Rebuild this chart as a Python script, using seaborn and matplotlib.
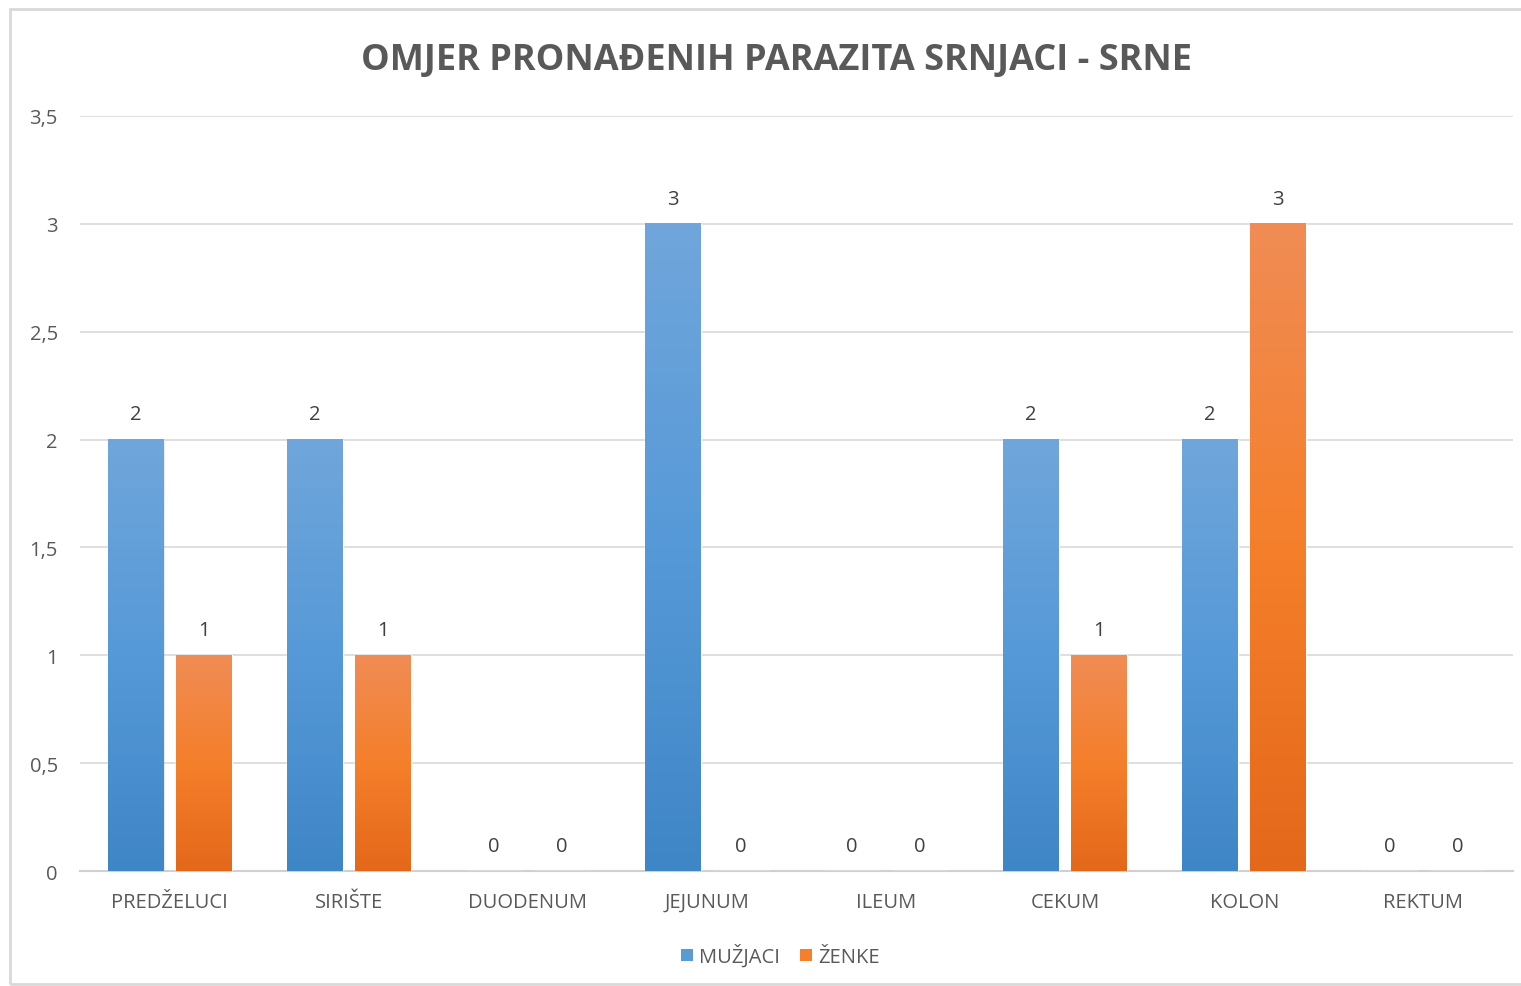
import numpy as np
import pandas as pd
import matplotlib
matplotlib.use("Agg")
import matplotlib.pyplot as plt
from matplotlib.patches import Patch, Rectangle
from matplotlib.colors import LinearSegmentedColormap
from matplotlib.ticker import FuncFormatter, MultipleLocator
import seaborn as sns

# Data
categories = ["PREDŽELUCI", "SIRIŠTE", "DUODENUM", "JEJUNUM",
              "ILEUM", "CEKUM", "KOLON", "REKTUM"]
muzjaci = [2, 2, 0, 3, 0, 2, 2, 0]
zenke = [1, 1, 0, 0, 0, 1, 3, 0]
series_names = ["MUŽJACI", "ŽENKE"]

title = "OMJER PRONAĐENIH PARAZITA SRNJACI - SRNE"

df = pd.DataFrame({
    "organ": categories * 2,
    "value": muzjaci + zenke,
    "spol": [series_names[0]] * len(categories) + [series_names[1]] * len(categories),
})

sns.set_theme(style="white")
plt.rcParams["font.family"] = ["Open Sans", "DejaVu Sans"]

text_grey = "#595959"
blue = "#5B9BD5"
orange = "#F57F2B"
# top -> bottom gradient stops
grads = {
    series_names[0]: ["#70A6DB", "#5699D8", "#3F86C6"],
    series_names[1]: ["#F08C55", "#F57F2B", "#E4681A"],
}

fig = plt.figure(figsize=(15.21, 9.87), dpi=100)
ax = fig.add_axes([0.0526, 0.1165, 0.9421, 0.765])

sns.barplot(data=df, x="organ", y="value", hue="spol", order=categories,
            hue_order=series_names, palette=[blue, orange],
            width=0.76, gap=0.18, legend=False, ax=ax, zorder=3)

# gradient fills on top of the bars
for cont, name in zip(ax.containers, series_names):
    cmap = LinearSegmentedColormap.from_list(name, grads[name])
    grad = np.linspace(0, 1, 256).reshape(-1, 1)
    for bar in cont:
        h = bar.get_height()
        if h <= 0:
            continue
        x0 = bar.get_x()
        w = bar.get_width()
        # soft shadow
        ax.add_patch(Rectangle((x0 + 0.006, -0.012), w, h, facecolor="#000000",
                               alpha=0.10, edgecolor="none", zorder=2))
        ax.imshow(grad, cmap=cmap, aspect="auto", extent=(x0, x0 + w, 0, h),
                  origin="upper", zorder=4, interpolation="bilinear")
    ax.bar_label(cont, fmt="%g", padding=11, fontsize=14.5, color="#404040")

ax.set_ylim(0, 3.5)
ax.set_xlim(-0.5, len(categories) - 0.5)

ax.yaxis.set_major_locator(MultipleLocator(0.5))
ax.yaxis.set_major_formatter(FuncFormatter(lambda v, p: f"{v:g}".replace(".", ",")))
ax.grid(axis="y", color="#D9D9D9", linewidth=1.2, zorder=0)
ax.set_axisbelow(True)

for side in ["left", "right", "top"]:
    ax.spines[side].set_visible(False)
ax.spines["bottom"].set_color("#D0D0D0")
ax.spines["bottom"].set_linewidth(1.5)

ax.tick_params(axis="y", length=0, pad=16, labelsize=14.5, labelcolor=text_grey)
ax.tick_params(axis="x", length=0, pad=15, labelsize=14.5, labelcolor=text_grey)
ax.set_xlabel("")
ax.set_ylabel("")

fig.text(0.5105, 0.938, title, ha="center", va="center", fontsize=26,
         fontweight="bold", color=text_grey)

handles = [Patch(facecolor=blue, edgecolor="none", label=series_names[0]),
           Patch(facecolor=orange, edgecolor="none", label=series_names[1])]
fig.legend(handles=handles, loc="center", bbox_to_anchor=(0.513, 0.031), ncol=2,
           frameon=False, fontsize=14.5, handlelength=0.6, handleheight=0.6,
           handletextpad=0.3, columnspacing=1.0, labelcolor=text_grey)

# chart frame
fig.patches.append(Rectangle((10 / 1521, 2 / 987), 1.0, 975 / 987, transform=fig.transFigure,
                             fill=False, edgecolor="#D9D9D9", linewidth=2))

fig.savefig("out.png", dpi=100)
plt.close(fig)
